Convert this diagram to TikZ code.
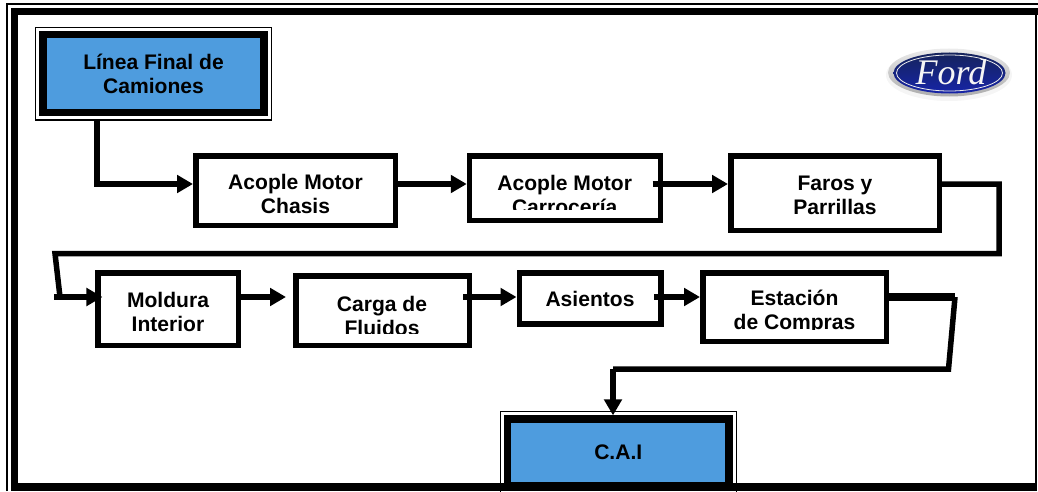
\documentclass[tikz,border=0pt]{standalone}
\usepackage{fontspec}
\setmainfont{Liberation Sans}
\newfontfamily\fordfont{Liberation Serif}
\usetikzlibrary{arrows.meta}
\definecolor{boxblue}{RGB}{78,156,222}
\definecolor{fordblue}{RGB}{32,52,130}
\tikzset{
	flow/.style={draw,line width=5.5pt*0.75,fill=white,font=\bfseries\fontsize{15.8}{18}\selectfont,align=center,inner sep=0pt},
	endbox/.style={flow,line width=7.3pt*0.75,fill=boxblue},
	cuttext/.style={font=\bfseries\fontsize{15.8}{18}\selectfont,align=center,inner sep=0pt},
	thinbox/.style={line width=1.4pt*0.75},
	frameline/.style={line width=7.3pt*0.75},
	link/.style={line width=5.5pt*0.75,-{Triangle[length=12pt,width=13pt]}},
	plainlink/.style={line width=5.5pt*0.75}
}
\begin{document}
\begin{tikzpicture}[x=0.75pt,y=-0.75pt]
	\useasboundingbox (0,0) rectangle (1038,492);
	% cajas azules
	\draw[thinbox] (35.7,27.4) rectangle (271.3,120);
	\node[endbox,minimum width=221pt*0.75,minimum height=78pt*0.75] (linea) at (153.5,73.5) {L\'inea Final de\\Camiones};
	\draw[thinbox] (500.3,411.7) rectangle (736.5,493);
	\node[endbox,minimum width=221.5pt*0.75,minimum height=67pt*0.75] (cai) at (618.25,452.5) {C.A.I};
	% marco
	\draw[line width=1.7pt*0.75] (7,491) -- (7,4) -- (1038,4);
	\draw[frameline] (14.7,484) -- (14.7,11.2) -- (1038,11.2);
	\draw[line width=2pt*0.75] (1036.3,15) -- (1036.3,484);
	\draw[frameline] (11,487) -- (1037.3,487);
	% logo
	\fill[gray!8] (949,75) ellipse (63 and 26);
	\shade[top color=gray!15,bottom color=gray!65] (949,72.5) ellipse (61 and 24);
	\shade[top color=fordblue!70!black,bottom color=fordblue!70!blue] (949.5,73) ellipse (56 and 20.5);
	\draw[white!85!gray,line width=0.6pt] (949.5,73) ellipse (53 and 18);
	\node[text=white!92!gray,font=\fordfont\itshape\fontsize{27}{27}\selectfont,inner sep=0pt] (ford) at (951,72) {Ford};
	% primera fila
	\node[flow,minimum width=199.5pt*0.75,minimum height=69.5pt*0.75] (chasis) at (295.5,190.5) {\rule{0pt}{17pt}Acople Motor\\Chasis};
	\node[flow,minimum width=191pt*0.75,minimum height=64.5pt*0.75] (carro) at (565,188) {};
	\node[flow,minimum width=208.5pt*0.75,minimum height=74.5pt*0.75] (faros) at (835,193) {\rule{0pt}{14.5pt}Faros y\\Parrillas};
	% segunda fila
	\node[flow,minimum width=140.5pt*0.75,minimum height=72.5pt*0.75] (moldura) at (168,309) {\rule{0pt}{15.3pt}Moldura\\Interior};
	\node[flow,minimum width=173.5pt*0.75,minimum height=69.5pt*0.75] (carga) at (382.5,310.5) {};
	\node[flow,minimum width=141.5pt*0.75,minimum height=51pt*0.75] (asientos) at (590,298.5) {Asientos};
	\node[flow,minimum width=183.5pt*0.75,minimum height=68.5pt*0.75] (estacion) at (794.5,307) {};
	% textos cortados
	\begin{scope}
		\clip (475,165) rectangle (655,209);
		\node[cuttext] (carrotxt) at (564.7,194.7) {Acople Motor\\Carrocer\'ia};
	\end{scope}
	\begin{scope}
		\clip (302,285) rectangle (462,333.5);
		\node[cuttext] (cargatxt) at (382,315.5) {Carga de\\Fluidos};
	\end{scope}
	\begin{scope}
		\clip (710,280) rectangle (880,329);
		\node[cuttext] (estaciontxt) at (794.5,312) {Estaci\'on\\de Compras};
	\end{scope}
	% flechas
	\coordinate (c0) at (97,120);
	\coordinate (c1) at (97,184);
	\coordinate (s1) at (652.5,184);
	\coordinate (c2) at (999,184);
	\coordinate (c3) at (999,253.5);
	\coordinate (c4) at (55,253.5);
	\coordinate (c5) at (60,297);
	\coordinate (s2) at (54,297);
	\coordinate (s3) at (463,297);
	\coordinate (s4) at (654,297);
	\coordinate (c6) at (955,297);
	\coordinate (c7) at (948.5,369);
	\coordinate (c8) at (613,369);
	\draw[link] (c0) -- (c1) -- (chasis.west |- c1);
	\draw[link] (chasis.east |- c1) -- (carro.west |- c1);
	\draw[link] (s1) -- (faros.west |- s1);
	\draw[plainlink] (faros.east |- c2) -- (c2) -- (c3) -- (c4) -- (c5);
	\draw[link,shorten >=-5.6pt] (s2) -- (moldura.west |- s2);
	\draw[link,shorten >=5.25pt] (moldura.east |- s2) -- (carga.west |- s2);
	\draw[link] (s3) -- (asientos.west |- s3);
	\draw[link] (s4) -- (estacion.west |- s4);
	\draw[frameline] (estacion.east |- c6) -- (c6);
	\draw[plainlink] (c6) -- (c7) -- (c8);
	\draw[link] (c8) -- (cai.north -| c8);
\end{tikzpicture}
\end{document}
